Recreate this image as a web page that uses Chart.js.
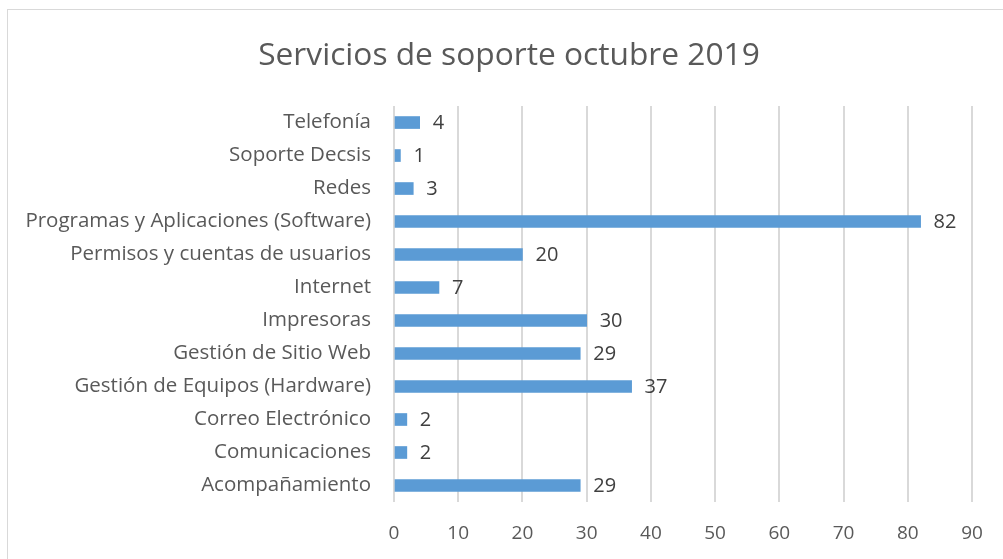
<!DOCTYPE html>
<html lang="es">
<head>
    <meta charset="UTF-8" />
    <title>Servicios de soporte octubre 2019</title>
    <script src="https://cdn.jsdelivr.net/npm/chart.js"></script>
    <style>
        body {
            margin: 0;
            background: #fff;
            overflow: hidden;
        }

        .frame {
            position: absolute;
            left: 7px;
            top: 9px;
            width: 1100px;
            height: 700px;
            border: 1px solid #d9d9d9;
        }

        .wrap {
            position: absolute;
            left: 0;
            top: 0;
            width: 1003px;
            height: 559px;
        }
    </style>
</head>
<body>
    <div class="frame"></div>
    <div class="wrap"><canvas id="chart"></canvas></div>

    <script>
        const categories = [
            'Telefonía',
            'Soporte Decsis',
            'Redes',
            'Programas y Aplicaciones (Software)',
            'Permisos y cuentas de usuarios',
            'Internet',
            'Impresoras',
            'Gestión de Sitio Web',
            'Gestión de Equipos (Hardware)',
            'Correo Electrónico',
            'Comunicaciones',
            'Acompañamiento'
        ];
        const servicios = [4, 1, 3, 82, 20, 7, 30, 29, 37, 2, 2, 29];
        const xMin = 0, xMax = 90, xStep = 10;

        const fontFamily = "'Open Sans', sans-serif";

        // etiquetas de valor a la derecha de cada barra
        const valueLabels = {
            id: 'valueLabels',
            afterDatasetsDraw(chart) {
                const ctx = chart.ctx;
                const meta = chart.getDatasetMeta(0);
                ctx.save();
                ctx.font = "20px " + fontFamily;
                ctx.fillStyle = '#404040';
                ctx.textAlign = 'left';
                ctx.textBaseline = 'middle';
                meta.data.forEach((bar, i) => {
                    ctx.fillText(String(servicios[i]), bar.x + 13, bar.y + 1);
                });
                ctx.restore();
            }
        };

        new Chart(document.getElementById('chart'), {
            type: 'bar',
            data: {
                labels: categories,
                datasets: [{
                    data: servicios,
                    backgroundColor: '#5b9bd5',
                    borderWidth: 0,
                    barThickness: 12
                }]
            },
            options: {
                indexAxis: 'y',
                responsive: true,
                maintainAspectRatio: false,
                animation: false,
                layout: { padding: { left: 15, right: 0, top: 0, bottom: 0 } },
                plugins: {
                    legend: { display: false },
                    tooltip: { enabled: false },
                    title: {
                        display: true,
                        text: 'Servicios de soporte octubre 2019',
                        color: '#595959',
                        font: { family: fontFamily, size: 31.7, weight: 'normal', lineHeight: 1.2 },
                        padding: { top: 36.5, bottom: 31.5 }
                    }
                },
                scales: {
                    x: {
                        min: xMin,
                        max: xMax,
                        ticks: {
                            stepSize: xStep,
                            color: '#595959',
                            padding: 20,
                            font: { family: fontFamily, size: 19 }
                        },
                        grid: { color: '#d9d9d9', lineWidth: 2, drawTicks: false },
                        border: { display: false },
                        afterFit(scale) { scale.height = 57; }
                    },
                    y: {
                        ticks: {
                            color: '#595959',
                            padding: 23,
                            font: { family: fontFamily, size: 20.5 }
                        },
                        grid: { display: false, drawTicks: false },
                        border: { display: false },
                        afterFit(scale) { scale.width = 379; }
                    },
                    // eje vacío a la derecha: deja el margen sin mover el título
                    yRight: {
                        axis: 'y',
                        type: 'category',
                        position: 'right',
                        ticks: { display: false },
                        grid: { display: false, drawTicks: false },
                        border: { display: false },
                        afterFit(scale) { scale.width = 31; }
                    }
                }
            },
            plugins: [valueLabels]
        });
    </script>
</body>
</html>
